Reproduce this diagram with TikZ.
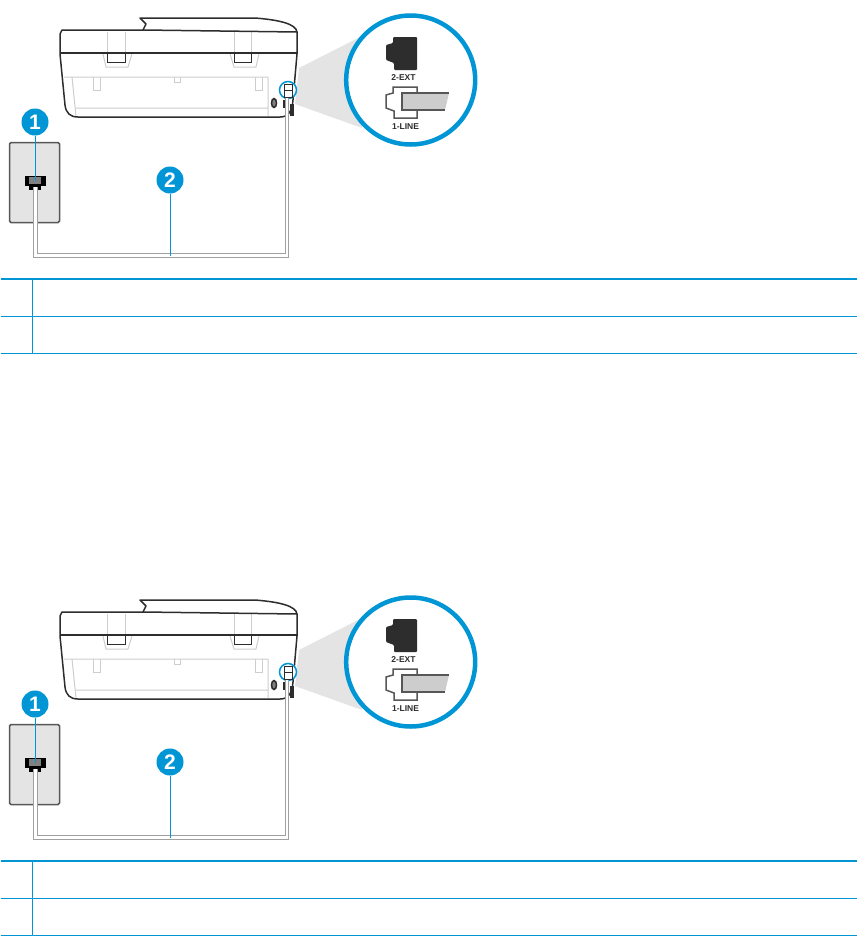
\documentclass[tikz,border=0pt]{standalone}
\usepackage{fontspec}
\setmainfont{Liberation Sans}
\usetikzlibrary{positioning}
\usetikzlibrary{calc}
\definecolor{hpblue}{RGB}{0,150,214}
\definecolor{darkbody}{RGB}{45,45,45}
\definecolor{lightbody}{RGB}{205,205,205}
\definecolor{platefill}{RGB}{228,228,228}
\definecolor{cablegray}{RGB}{160,160,160}

\begin{document}
\begin{tikzpicture}[
        x=1pt, y=-1pt,
        outline/.style={draw=darkbody, line width=1.5pt, line join=round},
        thinline/.style={draw=lightbody, line width=1pt},
        callout/.style={circle, fill=hpblue, text=white, inner sep=0pt, minimum size=27pt,
                        font=\fontsize{21}{21}\selectfont\bfseries},
        leader/.style={draw=hpblue, line width=1pt},
        cable/.style={draw=cablegray, double=white, line width=1.3pt, double distance=2.2pt},
        portlabel/.style={inner sep=0pt, font=\fontsize{8.5}{8.5}\selectfont\bfseries, text=darkbody},
        tablerule/.style={draw=hpblue, line width=1pt}
    ]
    \useasboundingbox (0,0) rectangle (857,937);

    \foreach \tag/\yoff in {a/0, b/582} {
    \begin{scope}[shift={(0,\yoff)}]
        % magnifier wedge
        \fill[platefill] (299,68) -- (362,36) -- (362,128) -- (295,104) -- cycle;

        % printer body
        \draw[thinline] (107,32) -- (107,53) (125,32) -- (125,53) (234,32) -- (234,53) (251,32) -- (251,53);
        \draw[thinline] (103,54) -- (106,67) -- (128,67) -- (132,54) (230,54) -- (234,67) -- (256,67) -- (259,54);
        \draw[darkbody, line width=1pt] (107,54) -- (107,62) -- (125,62) -- (125,54) (234,54) -- (234,62) -- (251,62) -- (251,54);
        \draw[thinline] (64,77) -- (268,77) (72,77) -- (76,116) (76,108) -- (268,108) (268,77) -- (268,116);
        \draw[thinline] (93,77) -- (93,90) -- (100,90) -- (100,77) (255,77) -- (255,90) -- (262,90) -- (262,77);
        \draw[thinline] (174,77) -- (174,82) -- (180,82) -- (180,77);
        \draw[outline] (143,30) -- (146,24) -- (140,18) -- (255,18)
            .. controls (280,20) and (296,24) .. (297,32);
        \draw[outline] (143,30) -- (62,30) -- (60,34) -- (60,54) -- (65,105)
            .. controls (66,113) and (70,117) .. (78,117) -- (280,117)
            .. controls (288,117) and (292,112) .. (293,100) -- (297,54) -- (297,32) -- cycle;
        \draw[outline] (60,53) -- (297,53);
        \draw[darkbody, line width=1.5pt, fill=gray] (274,103) ellipse (2.5pt and 4.5pt);
        \fill[darkbody] (283,100) rectangle (285,108);
        \fill[darkbody] (290,104) rectangle (294,116);

        % wall plate and phone jack
        \node[draw=darkbody!80, fill=platefill, line width=1.5pt, rounded corners=1.5pt,
              minimum width=50pt, minimum height=80pt, inner sep=0pt] (plate\tag) at (34.5,182.5) {};
        \node[fill=black, minimum width=21pt, minimum height=10pt, inner sep=0pt] (wall\tag) at (35,180.5) {};
        \fill[black] (29,185) rectangle (41,190);
        \fill[gray] (29,176.5) rectangle (41,184);

        % port on the printer
        \node[circle, draw=hpblue, fill=white, line width=1.5pt, minimum size=17pt, inner sep=0pt] (zoomport\tag) at (288,90) {};
        \draw[darkbody, line width=1pt] (284,84) rectangle (292,97) (284,90) -- (292,90);
        \coordinate (printer\tag) at (287,98);

        % phone cord
        \coordinate (bend\tag) at (170,255.5);
        \draw[cable] (35.5,187) -- (35.5,255.5) -- (287,255.5) -- (printer\tag);

        % enlarged ports
        \node[circle, draw=hpblue, fill=white, line width=4.5pt, minimum size=129pt, inner sep=0pt] (lens\tag) at (410.7,80) {};
        \fill[darkbody, rounded corners=1pt] (417,37) -- (417,70) -- (394,70) -- (394,63) -- (386,60) -- (386,45) -- (393,43) -- (393,37) -- cycle;
        \node[portlabel] (ext\tag) at (403.5,78) {2-EXT};
        \draw[darkbody!80, line width=1.5pt, fill=white] (417,87) -- (417,118) -- (394,118) -- (394,111) -- (386,108) -- (386,95) -- (393,93) -- (393,87) -- cycle;
        \fill[lightbody] (449,93) -- (445,110) -- (403,110) -- (403,94) -- cycle;
        \draw[darkbody!80, line width=1.5pt] (449,93) -- (402,93) -- (402,110) -- (445,110);
        \node[portlabel] (line\tag) at (405.5,127) {1-LINE};

        % callouts
        \node[callout] (one\tag) at (35,122) {1};
        \node[callout] (two\tag) at (170,180) {2};
        \draw[leader] (one\tag) -- (wall\tag.center);
        \draw[leader] (two\tag) -- (bend\tag);

        % empty key table
        \coordinate (toprule\tag) at (1,279);
        \coordinate (midrule\tag) at (1,316);
        \coordinate (endrule\tag) at (1,353.4);
        \draw[tablerule, line width=2pt] (toprule\tag) -- ++(856,0);
        \draw[tablerule] (midrule\tag) -- ++(856,0);
        \draw[tablerule] (endrule\tag) -- ++(856,0);
        \draw[tablerule] (32.3,279) -- (32.3,353.4);
    \end{scope}
    }
\end{tikzpicture}
\end{document}
